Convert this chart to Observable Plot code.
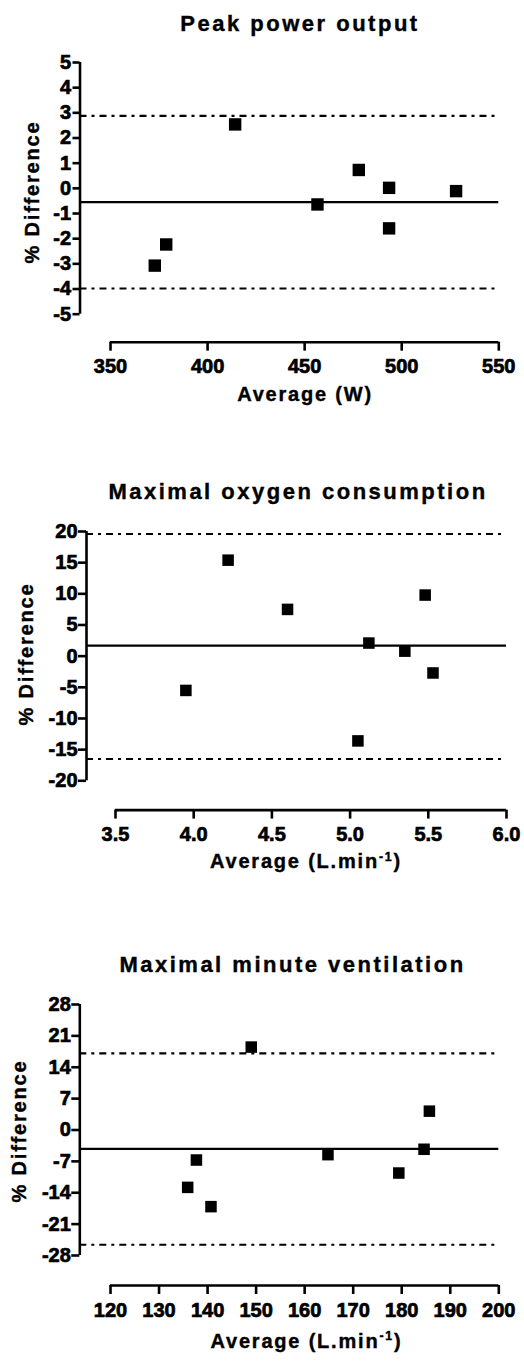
<!DOCTYPE html>
<html>
<head>
<meta charset="utf-8">
<script src="https://cdn.jsdelivr.net/npm/d3@7"></script>
<script src="https://cdn.jsdelivr.net/npm/@observablehq/plot@0.6"></script>
<style>
  html, body { margin: 0; padding: 0; background: #fff; }
  #root { position: relative; width: 524px; height: 1367px; overflow: hidden;
          font-family: "Liberation Sans", Arial, sans-serif; font-weight: bold; color: #000; }
  .t { position: absolute; left: 0; top: 0; white-space: nowrap; line-height: 1; -webkit-text-stroke: 0.4px #000; }
  .t sup { font-size: 0.62em; vertical-align: 0.62em; line-height: 0; }
  svg.panel { position: absolute; left: 0; }
  svg.panel text { font-family: "Liberation Sans", Arial, sans-serif !important; font-weight: 700 !important; font-size: 20px !important; fill: #000 !important; stroke: #000 !important; stroke-width: 0.7px !important; }
</style>
</head>
<body>
<div id="root"></div>
<script>
// ---------- Data ----------
// Peak power output
const powerAvg  = [372.8, 378.7, 414.2, 456.6, 477.9, 493.5, 493.5, 528.0];
const powerDiff = [-3.07, -2.23, 2.54, -0.64, 0.73, 0.02, -1.59, -0.11];
const powerMean = -0.55;
const powerLimits = [2.88, -3.98];
const powerXTicks = [350, 400, 450, 500, 550];
const powerYTicks = [-5, -4, -3, -2, -1, 0, 1, 2, 3, 4, 5];

// Maximal oxygen consumption
const vo2Avg  = [3.95, 4.22, 4.60, 5.05, 5.12, 5.35, 5.48, 5.53];
const vo2Diff = [-5.5, 15.4, 7.5, -13.6, 2.1, 0.8, 9.8, -2.7];
const vo2Mean = 1.7;
const vo2Limits = [19.6, -16.5];
const vo2XTicks = [3.5, 4.0, 4.5, 5.0, 5.5, 6.0];
const vo2YTicks = [-20, -15, -10, -5, 0, 5, 10, 15, 20];

// Maximal minute ventilation
const veAvg  = [135.9, 137.7, 140.7, 149.0, 164.8, 179.4, 184.6, 185.7];
const veDiff = [-12.8, -6.7, -17.1, 18.5, -5.5, -9.6, -4.3, 4.2];
const veMean = -4.2;
const veLimits = [17.1, -25.6];
const veXTicks = [120, 130, 140, 150, 160, 170, 180, 190, 200];
const veYTicks = [-28, -21, -14, -7, 0, 7, 14, 21, 28];

const titles = ["Peak power output", "Maximal oxygen consumption", "Maximal minute ventilation"];
const xLabels = ["Average (W)", "Average (L.min<sup>-1</sup>)", "Average (L.min<sup>-1</sup>)"];
const yLabel = "% Difference";

// ---------- Layout ----------
const root = document.getElementById("root");
const FONT = '"Liberation Sans", Arial, sans-serif';

function addText(html, cls, styleStr) {
  const d = document.createElement("div");
  d.className = "t " + cls;
  d.innerHTML = html;
  d.setAttribute("style", styleStr);
  root.appendChild(d);
  return d;
}

function panel(o) {
  const yMin = o.yTicks[0], yMax = o.yTicks[o.yTicks.length - 1];
  const xFirst = o.xTicks[0], xLast = o.xTicks[o.xTicks.length - 1];
  const yppu = (o.yLowPx - o.yTopPx) / (yMax - yMin);
  const xppu = (o.xLastPx - o.xFirstPx) / (xLast - xFirst);
  const yBottom = yMin - (o.axisLinePx - o.yLowPx) / yppu;
  const x0 = xFirst - (o.xFirstPx - o.yAxisPx) / xppu;
  const mt = 14, mb = 50;
  const height = mt + (o.axisLinePx - o.yTopPx) + mb;
  const pts = o.avg.map((a, i) => ({a, d: o.diff[i]}));

  const svg = Plot.plot({
    width: 524,
    height,
    marginTop: mt,
    marginBottom: mb,
    marginLeft: o.yAxisPx,
    marginRight: 524 - o.xLastPx,
    x: {domain: [x0, xLast], axis: null},
    y: {domain: [yBottom, yMax], axis: null},
    style: {fontFamily: FONT, fontSize: "20px", fontWeight: "bold", background: "transparent", overflow: "visible", color: "#000"},
    marks: [
      Plot.ruleY(o.limits, {x1: x0, x2: xLast, stroke: "#000", strokeWidth: 2.2, strokeDasharray: "7,5,3,5"}),
      Plot.ruleY([o.mean], {x1: x0, x2: xLast, stroke: "#000", strokeWidth: 2.2}),
      Plot.dot(pts, {x: "a", y: "d", symbol: "square", r: o.r, fill: "#000", stroke: "none"}),
      Plot.ruleX([x0], {y1: yMin, y2: yMax, stroke: "#000", strokeWidth: 2.6}),
      Plot.ruleY([yBottom], {x1: xFirst, x2: xLast, stroke: "#000", strokeWidth: 2.6}),
      Plot.axisY({anchor: "left", ticks: o.yTicks, tickSize: o.yTickSize, tickPadding: o.yTickPad,
                  tickFormat: d => String(d), strokeWidth: 2.6, label: null, fontSize: 20, fontWeight: "bold"}),
      Plot.axisX({anchor: "bottom", ticks: o.xTicks, tickSize: 9, tickPadding: 8,
                  tickFormat: o.xFmt, strokeWidth: 2.6, label: null, fontSize: 20, fontWeight: "bold"})
    ]
  });
  svg.classList.add("panel");
  svg.querySelectorAll("text").forEach(t => {
    t.setAttribute("font-weight", "bold");
    t.setAttribute("font-size", "20");
    t.setAttribute("font-family", FONT);
    t.setAttribute("stroke", "#000");
    t.setAttribute("stroke-width", "0.7");
  });
  svg.style.top = (o.yTopPx - mt) + "px";
  root.appendChild(svg);

  // title
  const TF = 22;
  addText(o.title, "title",
    `font-size:${TF}px;letter-spacing:2.5px;transform:translate(${o.titleX}px, ${o.titleBase - 0.8465 * TF}px) translate(-50%,0);`);
  // x label
  const LF = 20;
  addText(o.xLabel, "xlab",
    `font-size:${LF}px;letter-spacing:1.8px;transform:translate(${o.xLabelX}px, ${o.axisLinePx + o.xLabelOff - 0.8465 * LF}px) translate(-50%,0);`);
  // y label (rotated)
  const cx = o.yLabelBase - (0.8465 - 0.5) * LF;
  addText(yLabel, "ylab",
    `font-size:${LF}px;letter-spacing:1.8px;transform:translate(${cx}px, ${o.yLabelCY}px) translate(-50%,-50%) rotate(-90deg);`);
}

panel({
  title: titles[0], titleX: 300, titleBase: 31.5,
  xLabel: xLabels[0], xLabelX: 305, xLabelOff: 59,
  yLabelBase: 39, yLabelCY: 192,
  avg: powerAvg, diff: powerDiff, mean: powerMean, limits: powerLimits,
  xTicks: powerXTicks, yTicks: powerYTicks, xFmt: d => String(d),
  yAxisPx: 79.5, xFirstPx: 110, xLastPx: 498.3,
  yTopPx: 62.3, yLowPx: 314, axisLinePx: 342,
  yTickSize: 7, yTickPad: 2, r: 7
});

panel({
  title: titles[1], titleX: 298, titleBase: 499.5,
  xLabel: xLabels[1], xLabelX: 306, xLabelOff: 59,
  yLabelBase: 33, yLabelCY: 654,
  avg: vo2Avg, diff: vo2Diff, mean: vo2Mean, limits: vo2Limits,
  xTicks: vo2XTicks, yTicks: vo2YTicks, xFmt: d => d.toFixed(1),
  yAxisPx: 86, xFirstPx: 115, xLastPx: 506,
  yTopPx: 530.7, yLowPx: 780, axisLinePx: 809.3,
  yTickSize: 8, yTickPad: 1, r: 6.5
});

panel({
  title: titles[2], titleX: 292.5, titleBase: 973,
  xLabel: xLabels[2], xLabelX: 306.5, xLabelOff: 63,
  yLabelBase: 26, yLabelCY: 1131,
  avg: veAvg, diff: veDiff, mean: veMean, limits: veLimits,
  xTicks: veXTicks, yTicks: veYTicks, xFmt: d => String(d),
  yAxisPx: 79.3, xFirstPx: 110, xLastPx: 498.3,
  yTopPx: 1004, yLowPx: 1255, axisLinePx: 1285,
  yTickSize: 8, yTickPad: 1, r: 6.5
});
</script>
</body>
</html>
